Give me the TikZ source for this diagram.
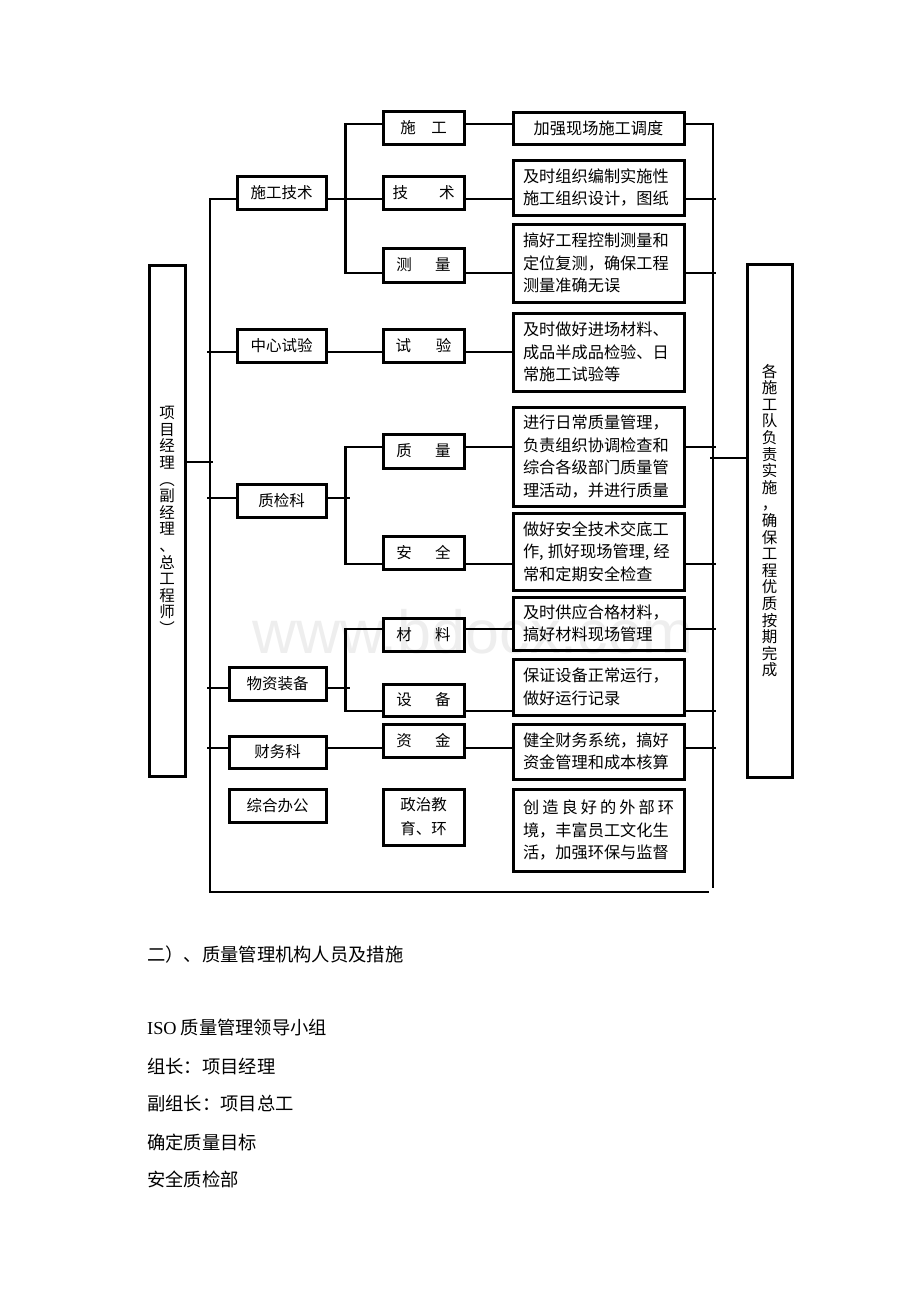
\documentclass[tikz,border=0pt]{standalone}
\usepackage{fontspec}
\setmainfont{Liberation Serif}
\newfontfamily\cjk{Noto Sans CJK SC}
\newfontfamily\song{Noto Sans CJK SC}
\newfontfamily\wmfont{Liberation Sans}
\begin{document}
\begin{tikzpicture}[x=1pt,y=-1pt,
  box/.style={draw, line width=3pt, inner sep=0pt, align=center,
    font=\cjk\fontsize{15.5}{24}\selectfont},
  cbox/.style={box, minimum width=171pt, text width=151pt, align=left,
    font=\cjk\fontsize{16.2}{22.5}\selectfont},
  vbox/.style={box, font=\cjk\fontsize{15.5}{16.6}\selectfont},
  conn/.style={line width=2.7pt, line cap=rect},
  para/.style={anchor=west, inner sep=0pt, font=\song\fontsize{18.3}{20}\selectfont}]
\useasboundingbox (0,0) rectangle (920,1302);
% watermark
\node[anchor=base west, inner sep=0pt, font=\wmfont\fontsize{61}{61}\selectfont, text=gray!13] (wm) at (252,653) {www.bdocx.com};

% side boxes
\node[vbox, minimum width=36pt, minimum height=511pt] (L) at (167,520.5)
  {项\\目\\经\\理\\︵\\副\\经\\理\\、\\总\\工\\程\\师\\︶};
\node[vbox, minimum width=45pt, minimum height=513pt] (R) at (769.5,520.5)
  {各\\施\\工\\队\\负\\责\\实\\施\\，\\确\\保\\工\\程\\优\\质\\按\\期\\完\\成};

% level 1
\node[box, minimum width=89pt, minimum height=33pt] (a1) at (281.5,192.5) {施工技术};
\node[box, minimum width=89pt, minimum height=33pt] (a2) at (281.5,345.5) {中心试验};
\node[box, minimum width=89pt, minimum height=33pt] (a3) at (281.5,500.5) {质检科};
\node[box, minimum width=97pt, minimum height=33pt] (a4) at (277.5,683.5) {物资装备};
\node[box, minimum width=97pt, minimum height=32pt] (a5) at (277.5,752) {财务科};
\node[box, minimum width=97pt, minimum height=33pt] (a6) at (277.5,805.5) {综合办公};

% level 2
\node[box, minimum width=81pt, minimum height=33pt] (b1) at (423.5,127.5) {施\hspace{1em}工};
\node[box, minimum width=81pt, minimum height=33pt] (b2) at (423.5,192.5) {技\hspace{2em}术};
\node[box, minimum width=81pt, minimum height=34pt] (b3) at (423.5,265) {测\hspace{1.5em}量};
\node[box, minimum width=81pt, minimum height=33pt] (b4) at (423.5,345.5) {试\hspace{1.6em}验};
\node[box, minimum width=81pt, minimum height=34pt] (b5) at (423.5,451) {质\hspace{1.5em}量};
\node[box, minimum width=81pt, minimum height=33pt] (b6) at (423.5,552.5) {安\hspace{1.5em}全};
\node[box, minimum width=81pt, minimum height=33pt] (b7) at (423.5,634.5) {材\hspace{1.5em}料};
\node[box, minimum width=81pt, minimum height=32pt] (b8) at (423.5,700) {设\hspace{1.5em}备};
\node[box, minimum width=81pt, minimum height=33pt] (b9) at (423.5,740.5) {资\hspace{1.5em}金};
\node[box, minimum width=81pt, minimum height=56pt] (b10) at (423.5,817) {政治教\\育、环};

% level 3
\node[cbox, align=center, minimum height=32pt] (c1) at (598.5,128) {加强现场施工调度};
\node[cbox, minimum height=55pt] (c2) at (598.5,187.5) {及时组织编制实施性\\施工组织设计，图纸};
\node[cbox, minimum height=78pt] (c3) at (598.5,263) {搞好工程控制测量和\\定位复测，确保工程\\测量准确无误};
\node[cbox, minimum height=78pt] (c4) at (598.5,352) {及时做好进场材料、\\成品半成品检验、日\\常施工试验等};
\node[cbox, minimum height=99pt] (c5) at (598.5,456.5) {进行日常质量管理，\\负责组织协调检查和\\综合各级部门质量管\\理活动，并进行质量};
\node[cbox, minimum height=77pt] (c6) at (598.5,551.5) {做好安全技术交底工\\作,\hspace{0.25em}抓好现场管理,\hspace{0.25em}经\\常和定期安全检查};
\node[cbox, minimum height=53pt] (c7) at (598.5,623.5) {及时供应合格材料，\\搞好材料现场管理};
\node[cbox, minimum height=56pt] (c8) at (598.5,687) {保证设备正常运行，\\做好运行记录};
\node[cbox, minimum height=55pt] (c9) at (598.5,751.5) {健全财务系统，搞好\\资金管理和成本核算};
\node[cbox, minimum height=82pt] (c10) at (598.5,830) {\makebox[151pt][s]{创\hfill 造\hfill 良\hfill 好\hfill 的\hfill 外\hfill 部\hfill 环}\\境，丰富员工文化生\\活，加强环保与监督};

% buses
\coordinate (lbT) at (210,199);
\coordinate (lbB) at (210,892);
\coordinate (bR) at (708,892);
\coordinate (rbT) at (713,124);
\coordinate (rbB) at (713,887);
\draw[conn] (lbT) -- (lbB) -- (bR);
\draw[conn] ([yshift=4pt]c1.east) -- (rbT) -- (rbB);

% left box to bus, bus to right box
\draw[conn] ([yshift=58.5pt]L.east) -- ++(25,0);
\draw[conn] ([yshift=62.5pt]R.west) -- ++(-34,0);

% bus to level 1
\draw[conn] (lbT) -- ([yshift=-6.5pt]a1.west);
\draw[conn] ([yshift=-6.5pt]a2.west) -- ++(-27,0);
\draw[conn] ([yshift=2.5pt]a3.west) -- ++(-27,0);
\draw[conn] ([yshift=-4.5pt]a4.west) -- ++(-19,0);
\draw[conn] ([yshift=4pt]a5.west) -- ++(-19,0);

% level 1 to level 2
\draw[conn] ([yshift=-6.5pt]a1.east) -- ([yshift=-6.5pt]b2.west);
\draw[conn] ([yshift=3.5pt]b1.west) -| ([xshift=-36pt,yshift=-8pt]b3.west) -- ([yshift=-8pt]b3.west);
\draw[conn] ([yshift=-6.5pt]a2.east) -- ([yshift=-6.5pt]b4.west);
\draw[conn] ([yshift=4pt]b5.west) -| ([xshift=-36pt,yshift=-11.5pt]b6.west) -- ([yshift=-11.5pt]b6.west);
\draw[conn] ([yshift=2.5pt]a3.east) -- ++(21,0);
\draw[conn] ([yshift=5.5pt]b7.west) -| ([xshift=-36pt,yshift=-11pt]b8.west) -- ([yshift=-11pt]b8.west);
\draw[conn] ([yshift=-4.5pt]a4.east) -- ++(21,0);
\draw[conn] ([yshift=4pt]a5.east) -- ([yshift=-7.5pt]b9.west);

% level 2 to level 3
\draw[conn] ([yshift=3.5pt]b1.east) -- ([yshift=4pt]c1.west);
\draw[conn] ([yshift=-6.5pt]b2.east) -- ([yshift=-11.5pt]c2.west);
\draw[conn] ([yshift=-8pt]b3.east) -- ([yshift=-10pt]c3.west);
\draw[conn] ([yshift=-6.5pt]b4.east) -- (c4.west);
\draw[conn] ([yshift=4pt]b5.east) -- ([yshift=9.5pt]c5.west);
\draw[conn] ([yshift=-11.5pt]b6.east) -- ([yshift=-12.5pt]c6.west);
\draw[conn] ([yshift=5.5pt]b7.east) -- ([yshift=-5.5pt]c7.west);
\draw[conn] ([yshift=-11pt]b8.east) -- ([yshift=-24pt]c8.west);
\draw[conn] ([yshift=-7.5pt]b9.east) -- ([yshift=3.5pt]c9.west);

% level 3 to right bus
\draw[conn] ([yshift=-11.5pt]c2.east) -- ++(29,0);
\draw[conn] ([yshift=-10pt]c3.east) -- ++(29,0);
\draw[conn] ([yshift=9.5pt]c5.east) -- ++(29,0);
\draw[conn] ([yshift=-12.5pt]c6.east) -- ++(29,0);
\draw[conn] ([yshift=-5.5pt]c7.east) -- ++(29,0);
\draw[conn] ([yshift=-24pt]c8.east) -- ++(29,0);
\draw[conn] ([yshift=3.5pt]c9.east) -- ++(29,0);

% text below
\node[para] (t1) at (147,955) {二）、质量管理机构人员及措施};
\node[para] (t2) at (147,1028) {{\rmfamily ISO} 质量管理领导小组};
\node[para] (t3) at (147,1067) {组长：项目经理};
\node[para] (t4) at (147,1104) {副组长：项目总工};
\node[para] (t5) at (147,1142) {确定质量目标};
\node[para] (t6) at (147,1179) {安全质检部};
\end{tikzpicture}
\end{document}
